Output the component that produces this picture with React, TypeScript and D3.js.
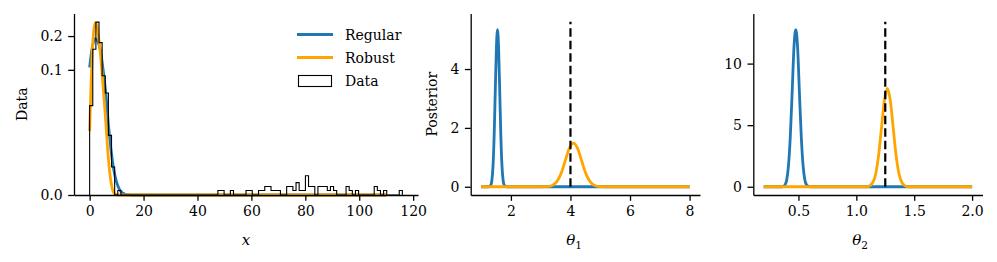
import { useEffect, useRef } from "react";
import * as d3 from "d3";

const WIDTH = 997;
const HEIGHT = 262;
const FONT = "'DejaVu Serif', serif";
const BLUE = "#1f77b4";
const ORANGE = "#ffa500";

// panel 1: histogram of the data (100 bins over [0, 116]) and the two fitted densities
const histRange = [0, 116];
const histCounts = [
  51, 172, 297, 197, 99, 68, 24, 8, 0, 1,
  0, 0, 0, 0, 0, 0, 0, 0, 0, 0,
  0, 0, 0, 0, 0, 0, 0, 0, 0, 0,
  0, 0, 0, 0, 0, 0, 0, 0, 0, 0,
  0, 1, 1, 0, 0, 1, 0, 0, 0, 0,
  1, 1, 0, 0, 1, 1, 2, 2, 1, 1,
  1, 0, 0, 2, 2, 1, 3, 1, 1, 5,
  2, 2, 0, 2, 2, 2, 1, 2, 1, 0,
  0, 0, 2, 1, 0, 1, 0, 0, 0, 0,
  0, 2, 1, 0, 1, 0, 0, 0, 0, 1,
];
const regularX = [0, 1, 2, 3, 4, 5, 6, 7, 8, 9, 10, 11, 12, 13, 14, 16, 110];
const regularDensity = [0.105, 0.16, 0.19, 0.18, 0.15, 0.1, 0.06, 0.028, 0.013, 0.006, 0.0028, 0.0012, 0.0005, 0.0002, 0.00006, 0, 0];
const robustX = [0, 0.5, 1, 1.5, 2, 2.5, 3, 4, 5, 6, 7, 8, 9, 10, 12, 110];
const robustDensity = [0.024, 0.07, 0.15, 0.22, 0.26, 0.255, 0.22, 0.14, 0.07, 0.03, 0.0095, 0.0025, 0.0004, 0.00005, 0, 0];
const dataXTicks = [0, 20, 40, 60, 80, 100, 120];
const dataYTicks = [0, 0.1, 0.2];

// panel 2: posterior of theta_1
const theta1RegularX = [1.0, 1.25, 1.325, 1.3625, 1.4, 1.4375, 1.475, 1.5125, 1.55, 1.5875, 1.625, 1.6625, 1.7, 1.7375, 1.775, 1.85, 8.0];
const theta1RegularY = [0, 0, 0.06, 0.23, 0.72, 1.73, 3.24, 4.71, 5.34, 4.71, 3.24, 1.73, 0.72, 0.23, 0.06, 0, 0];
const theta1RobustX = [1.0, 3.0, 3.29, 3.425, 3.56, 3.695, 3.83, 3.965, 4.1, 4.235, 4.37, 4.505, 4.64, 4.775, 4.91, 5.2, 8.0];
const theta1RobustY = [0, 0, 0.016, 0.065, 0.2, 0.48, 0.9, 1.31, 1.48, 1.31, 0.9, 0.48, 0.2, 0.065, 0.016, 0, 0];
const theta1True = 4;
const theta1XTicks = [2, 4, 6, 8];
const theta1YTicks = [0, 2, 4];

// panel 3: posterior of theta_2
const theta2RegularX = [0.2, 0.36, 0.383, 0.399, 0.414, 0.43, 0.446, 0.461, 0.477, 0.493, 0.508, 0.524, 0.54, 0.555, 0.571, 0.6, 2.0];
const theta2RegularY = [0, 0, 0.14, 0.56, 1.73, 4.14, 7.74, 11.26, 12.76, 11.26, 7.74, 4.14, 1.73, 0.56, 0.14, 0, 0];
const theta2RobustX = [0.2, 1.09, 1.118, 1.143, 1.168, 1.193, 1.218, 1.243, 1.268, 1.293, 1.318, 1.343, 1.368, 1.393, 1.418, 1.45, 2.0];
const theta2RobustY = [0, 0, 0.09, 0.35, 1.08, 2.59, 4.84, 7.04, 7.98, 7.04, 4.84, 2.59, 1.08, 0.35, 0.09, 0, 0];
const theta2True = 1.25;
const theta2XTicks = [0.5, 1.0, 1.5, 2.0];
const theta2YTicks = [0, 5, 10];

const TOP = 13.5;
const BOTTOM = 195;
const TICK = 5.8;

type G = d3.Selection<SVGGElement, unknown, null, undefined>;
type Pt = [number, number];

const zip = (xs: number[], ys: number[]): Pt[] => xs.map((x, i) => [x, ys[i]]);

function withMargin(lo: number, hi: number) {
  const m = (hi - lo) * 0.05;
  return [lo - m, hi + m];
}

function drawAxes(
  g: G,
  x: d3.ScaleLinear<number, number>,
  y: d3.ScaleContinuousNumeric<number, number>,
  xTicks: number[],
  yTicks: number[],
  fmtX: (d: number) => string,
  fmtY: (d: number) => string
) {
  const gx = g
    .append("g")
    .attr("transform", `translate(0,${BOTTOM})`)
    .call(
      d3.axisBottom(x).tickValues(xTicks).tickFormat((d) => fmtX(+d)).tickSize(TICK).tickPadding(5.5).tickSizeOuter(0)
    );
  const gy = g
    .append("g")
    .attr("transform", `translate(${x.range()[0]},0)`)
    .call(
      d3.axisLeft(y as any).tickValues(yTicks).tickFormat((d: any) => fmtY(+d)).tickSize(TICK).tickPadding(5.5).tickSizeOuter(0)
    );
  [gx, gy].forEach((a) => {
    a.attr("font-family", FONT).attr("font-size", 14);
    a.select(".domain").attr("stroke", "#000").attr("stroke-width", 1.3);
    a.selectAll(".tick line").attr("stroke", "#000").attr("stroke-width", 1.3);
    a.selectAll(".tick text").attr("fill", "#000");
  });
}

function mathLabel(g: G, cx: number, base: string, sub: string | null) {
  const t = g
    .append("text")
    .attr("x", cx)
    .attr("y", 245)
    .attr("text-anchor", "middle")
    .attr("font-family", FONT)
    .attr("font-size", 15)
    .attr("font-style", "italic");
  t.append("tspan").text(base);
  if (sub) {
    t.append("tspan").attr("dy", 3.5).attr("font-size", 10.5).attr("font-style", "normal").text(sub);
  }
}

function yLabel(g: G, cx: number, text: string) {
  g.append("text")
    .attr("transform", `translate(${cx},${(TOP + BOTTOM) / 2}) rotate(-90)`)
    .attr("text-anchor", "middle")
    .attr("dominant-baseline", "central")
    .attr("font-family", FONT)
    .attr("font-size", 14)
    .text(text);
}

export default function App() {
  const svgRef = useRef<SVGSVGElement | null>(null);

  useEffect(() => {
    if (!svgRef.current) return;
    const svg = d3.select(svgRef.current);
    svg.selectAll("*").remove();

    // ---------- panel 1 ----------
    const p1 = svg.append("g") as G;
    const binW = (histRange[1] - histRange[0]) / histCounts.length;
    const total = d3.sum(histCounts);
    const density = histCounts.map((c) => c / (total * binW));

    const x1 = d3.scaleLinear().domain(withMargin(histRange[0], histRange[1])).range([74, 418]);
    const maxDen = Math.max(d3.max(density) ?? 0, d3.max(robustDensity) ?? 0);
    const C = 0.01;
    const yTop = C * Math.expm1(1.05 * Math.log1p(maxDen / C));
    const y1 = d3.scaleSymlog().constant(C).domain([0, yTop]).range([BOTTOM, TOP]);

    const line1 = d3
      .line<Pt>()
      .x((d) => x1(d[0]))
      .y((d) => y1(d[1]))
      .curve(d3.curveMonotoneX);

    p1.append("path")
      .attr("d", line1(zip(regularX, regularDensity)))
      .attr("fill", "none")
      .attr("stroke", BLUE)
      .attr("stroke-width", 2.8);
    p1.append("path")
      .attr("d", line1(zip(robustX, robustDensity)))
      .attr("fill", "none")
      .attr("stroke", ORANGE)
      .attr("stroke-width", 2.8);

    const steps: Pt[] = [[histRange[0], 0]];
    density.forEach((d, i) => {
      steps.push([histRange[0] + i * binW, d]);
      steps.push([histRange[0] + (i + 1) * binW, d]);
    });
    steps.push([histRange[1], 0]);
    p1.append("path")
      .attr("d", d3.line<Pt>().x((d) => x1(d[0])).y((d) => y1(d[1]))(steps))
      .attr("fill", "none")
      .attr("stroke", "#000")
      .attr("stroke-width", 1.1);

    drawAxes(p1, x1, y1, dataXTicks, dataYTicks, d3.format("d"), d3.format(".1f"));
    yLabel(p1, 22, "Data");
    mathLabel(p1, 246, "x", null);

    // legend
    const legend = p1.append("g").attr("font-family", FONT).attr("font-size", 14);
    const rows = [
      { label: "Regular", color: BLUE, y: 34.5 },
      { label: "Robust", color: ORANGE, y: 57.5 },
      { label: "Data", color: null, y: 81 },
    ];
    rows.forEach((r) => {
      if (r.color) {
        legend
          .append("line")
          .attr("x1", 297)
          .attr("x2", 333)
          .attr("y1", r.y)
          .attr("y2", r.y)
          .attr("stroke", r.color)
          .attr("stroke-width", 2.8);
      } else {
        legend
          .append("rect")
          .attr("x", 298.5)
          .attr("y", r.y - 5.5)
          .attr("width", 33)
          .attr("height", 11)
          .attr("fill", "#fff")
          .attr("stroke", "#000")
          .attr("stroke-width", 1.1);
      }
      legend
        .append("text")
        .attr("x", 345)
        .attr("y", r.y)
        .attr("dominant-baseline", "central")
        .text(r.label);
    });

    // ---------- posterior panels ----------
    const posterior = (
      left: number,
      right: number,
      regX: number[],
      regY: number[],
      robX: number[],
      robY: number[],
      truth: number,
      xTicks: number[],
      yTicks: number[],
      fmtX: (d: number) => string,
      labelX: number,
      sub: string,
      ylab: string | null
    ) => {
      const g = svg.append("g") as G;
      const xs = [...regX, ...robX];
      const x = d3
        .scaleLinear()
        .domain(withMargin(d3.min(xs) ?? 0, d3.max(xs) ?? 1))
        .range([left, right]);
      const vTop = 1.05 * Math.max(d3.max(regY) ?? 0, d3.max(robY) ?? 0);
      const y = d3.scaleLinear().domain(withMargin(0, vTop)).range([BOTTOM, TOP]);
      const ln = d3
        .line<Pt>()
        .x((d) => x(d[0]))
        .y((d) => y(d[1]))
        .curve(d3.curveMonotoneX);
      g.append("path")
        .attr("d", ln(zip(regX, regY)))
        .attr("fill", "none")
        .attr("stroke", BLUE)
        .attr("stroke-width", 2.8);
      g.append("path")
        .attr("d", ln(zip(robX, robY)))
        .attr("fill", "none")
        .attr("stroke", ORANGE)
        .attr("stroke-width", 2.8);
      g.append("line")
        .attr("x1", x(truth))
        .attr("x2", x(truth))
        .attr("y1", y(0))
        .attr("y2", y(vTop))
        .attr("stroke", "#000")
        .attr("stroke-width", 2.2)
        .attr("stroke-dasharray", "8.5,4");
      drawAxes(g, x, y, xTicks, yTicks, fmtX, d3.format("d"));
      if (ylab) yLabel(g, 432, ylab);
      mathLabel(g, labelX, "θ", sub);
    };

    posterior(
      470.7, 700,
      theta1RegularX, theta1RegularY, theta1RobustX, theta1RobustY,
      theta1True, theta1XTicks, theta1YTicks, d3.format("d"),
      574, "1", "Posterior"
    );
    posterior(
      753.3, 982.5,
      theta2RegularX, theta2RegularY, theta2RobustX, theta2RobustY,
      theta2True, theta2XTicks, theta2YTicks, d3.format(".1f"),
      860, "2", null
    );
  }, []);

  return (
    <svg
      ref={svgRef}
      width={WIDTH}
      height={HEIGHT}
      style={{ position: "absolute", left: 0, top: 0, background: "#fff" }}
    />
  );
}
